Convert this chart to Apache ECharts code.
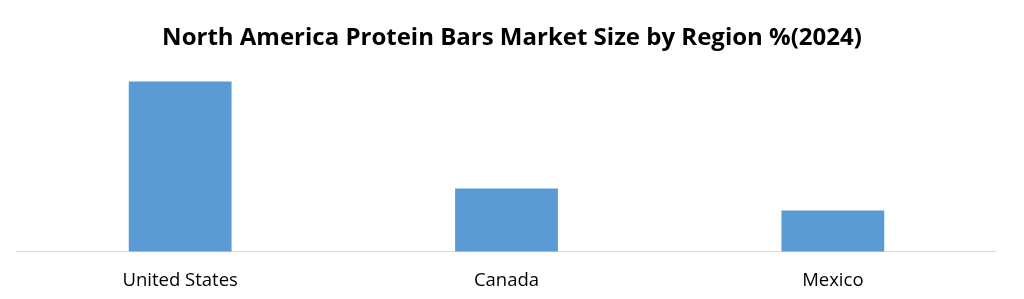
<!DOCTYPE html>
<html><head><meta charset="utf-8">
<script src="https://cdn.jsdelivr.net/npm/echarts@6/dist/echarts.min.js"></script>
<style>html,body{margin:0;padding:0;background:#fff}#c{width:1024px;height:299px}</style>
</head><body><div id="c"></div>
<script>
const titleText = "North America Protein Bars Market Size by Region %(2024)";
const categories = ["United States", "Canada", "Mexico"];
const shareValues = [62, 23, 15];

const chart = echarts.init(document.getElementById('c'), null, {renderer: 'canvas'});
chart.setOption({
  animation: false,
  backgroundColor: '#ffffff',
  title: {
    text: titleText, left: 'center', top: 21,
    textStyle: {fontFamily: 'Open Sans', fontWeight: 'bold', fontSize: 24, color: '#000'}
  },
  grid: {left: 17, right: 28, top: 59.6, bottom: 47.5},
  xAxis: {
    type: 'category', data: categories,
    axisLine: {lineStyle: {color: '#d9d9d9', width: 1}},
    axisTick: {show: false},
    axisLabel: {fontFamily: 'Open Sans', fontSize: 18.5, color: '#000', margin: 20}
  },
  yAxis: {
    type: 'value', min: 0, max: 70, show: false,
    splitLine: {show: false}
  },
  series: [{
    type: 'bar', data: shareValues, barWidth: '31.5%',
    itemStyle: {color: '#5b9bd5'}
  }]
});
</script></body></html>
